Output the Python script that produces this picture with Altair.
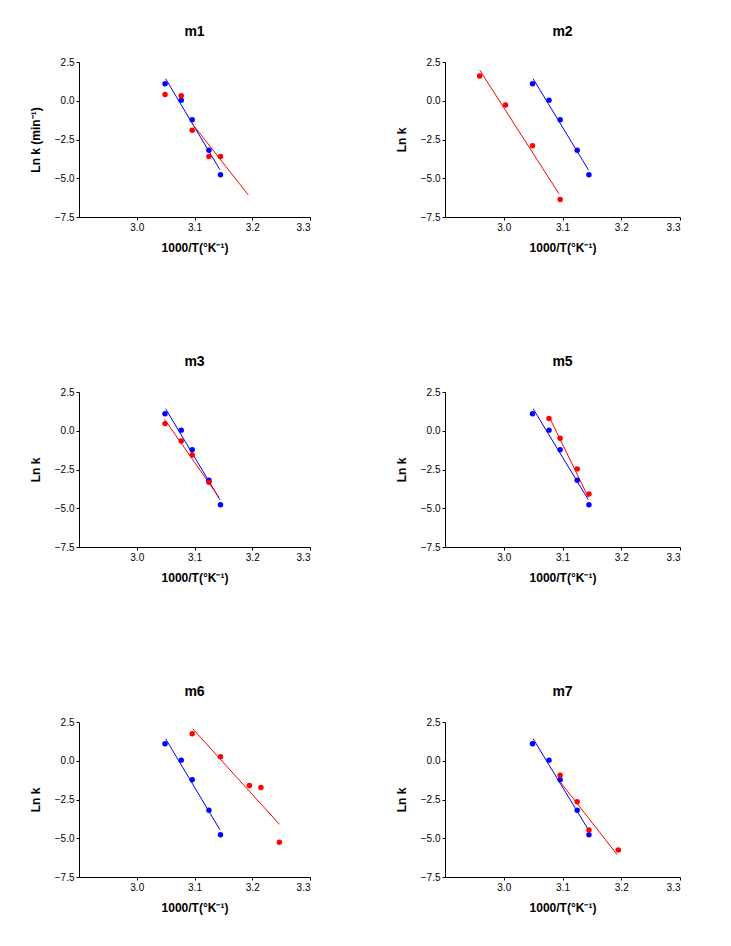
import altair as alt
import pandas as pd

# Shared control series (blue) in every panel
blue_x = [3.049, 3.077, 3.096, 3.125, 3.145]
blue_y = [1.09, 0.04, -1.23, -3.19, -4.78]
blue_line_x = [3.050, 3.144]
blue_line_y = [1.42, -4.45]

panel_names = ["m1", "m2", "m3", "m5", "m6", "m7"]

red_x = {
    "m1": [3.049, 3.077, 3.096, 3.125, 3.145],
    "m2": [2.959, 3.003, 3.049, 3.096],
    "m3": [3.049, 3.077, 3.096, 3.125],
    "m5": [3.077, 3.096, 3.125, 3.145],
    "m6": [3.096, 3.145, 3.195, 3.215, 3.247],
    "m7": [3.096, 3.125, 3.145, 3.195],
}
red_y = {
    "m1": [0.41, 0.33, -1.91, -3.59, -3.59],
    "m2": [1.60, -0.27, -2.91, -6.37],
    "m3": [0.46, -0.66, -1.56, -3.33],
    "m5": [0.79, -0.49, -2.46, -4.08],
    "m6": [1.74, 0.26, -1.60, -1.73, -5.26],
    "m7": [-0.93, -2.65, -4.47, -5.76],
}
red_line_x = {
    "m1": [3.096, 3.193],
    "m2": [2.959, 3.094],
    "m3": [3.048, 3.142],
    "m5": [3.077, 3.144],
    "m6": [3.097, 3.247],
    "m7": [3.097, 3.193],
}
red_line_y = {
    "m1": [-1.48, -6.07],
    "m2": [1.98, -6.00],
    "m3": [0.74, -4.27],
    "m5": [0.92, -4.29],
    "m6": [2.06, -4.10],
    "m7": [-1.41, -6.06],
}

x_ticks = [3.0, 3.1, 3.2, 3.3]
y_ticks = [-7.5, -5.0, -2.5, 0.0, 2.5]
x_title = "1000/T(°K⁻¹)"
y_titles = {"m1": "Ln k (min⁻¹)"}


def panel(name, w):
    pts = pd.DataFrame({
        "x": blue_x + red_x[name],
        "y": blue_y + red_y[name],
        "s": ["b"] * len(blue_x) + ["r"] * len(red_x[name]),
    })
    lines = pd.DataFrame({
        "x": blue_line_x + red_line_x[name],
        "y": blue_line_y + red_line_y[name],
        "s": ["b", "b", "r", "r"],
    })
    x = alt.X("x:Q", scale=alt.Scale(domain=[2.9, 3.3], nice=False, zero=False),
              axis=alt.Axis(values=x_ticks, format=".1f", title=x_title, titlePadding=10))
    y = alt.Y("y:Q", scale=alt.Scale(domain=[-7.5, 2.5], nice=False, zero=False),
              axis=alt.Axis(values=y_ticks, format=".1f", title=y_titles.get(name, "Ln k"),
                            titlePadding=12))
    color = alt.Color("s:N", scale=alt.Scale(domain=["b", "r"], range=["#0000ff", "#ff0000"]),
                      legend=None)
    line = alt.Chart(lines).mark_line(strokeWidth=1).encode(x=x, y=y, color=color, detail="s:N")
    pt = alt.Chart(pts).mark_circle(size=30, opacity=1).encode(x=x, y=y, color=color)
    return alt.layer(line, pt).properties(
        width=w, height=155,
        title=alt.TitleParams(name, anchor="middle", offset=18, fontSize=14,
                              fontWeight="bold", font="Liberation Sans", color="black"),
    )


charts = [panel(n, 231 if i % 2 == 0 else 235) for i, n in enumerate(panel_names)]

chart = alt.concat(*charts, columns=2, spacing={"row": 102, "column": 84}).properties(
    padding={"left": 21, "top": 17, "right": 5, "bottom": 5}
).configure_view(stroke=None).configure_axis(
    grid=False, domainColor="black", tickColor="black", tickSize=3,
    labelFont="Liberation Sans", labelFontSize=10, labelColor="black",
    titleFont="Liberation Sans", titleFontSize=12, titleFontWeight="bold", titleColor="black",
    labelPadding=2,
)

chart.save("out.html", embed_options={"renderer": "svg", "actions": False})
